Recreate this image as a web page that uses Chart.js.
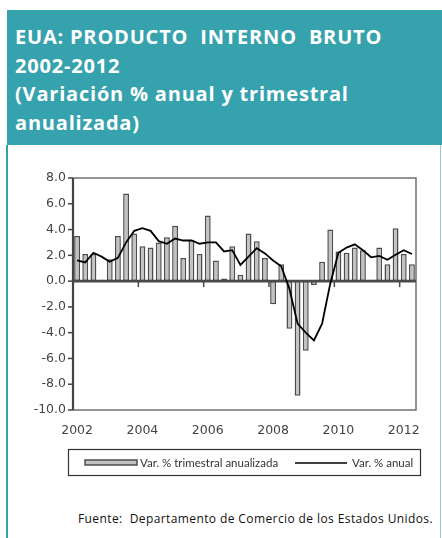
<!DOCTYPE html>
<html><head><meta charset="utf-8">
<script src="https://cdn.jsdelivr.net/npm/chart.js@4"></script>
<style>
html,body{margin:0;padding:0;background:#fff;width:442px;height:538px;overflow:hidden;position:relative}
#hdr{position:absolute;left:7px;top:10px;width:435px;height:135px;background:#35a2ae;}
#hdr div{position:absolute;left:8px;top:13px;color:#fff;font:700 20px "Open Sans";letter-spacing:0.8px;line-height:28.5px;white-space:pre;}
#lb{position:absolute;left:6px;top:145px;width:2px;height:393px;background:#35a2ae}
#rb{position:absolute;left:440px;top:145px;width:1px;height:393px;background:#9cc9cf}
#foot{position:absolute;left:78px;top:510px;font:12px "Open Sans";letter-spacing:0.4px;color:#111;white-space:pre}
canvas{position:absolute;left:0;top:0}
</style></head>
<body>
<div id="hdr"><div>EUA: PRODUCTO  INTERNO  BRUTO
2002-2012
(Variación % anual y trimestral
anualizada)</div></div>
<div id="lb"></div><div id="rb"></div>
<div id="foot">Fuente:  Departamento de Comercio de los Estados Unidos.</div>
<canvas id="c" width="442" height="538"></canvas>
<script>
// ---- data ----
const years = ['2002','2003','2004','2005','2006','2007','2008','2009','2010','2011','2012'];
const quarters = [];
years.forEach(y => { for (let q = 1; q <= 4; q++) quarters.push(y + ' T' + q); });
quarters.length = 42; // 2002 T1 .. 2012 T2
const tickYears = ['2002','2004','2006','2008','2010','2012'];
const trimestral = [
  3.5, 2.1, 2.1, 0.1,
  1.7, 3.5, 6.8, 3.7,
  2.7, 2.6, 3.0, 3.4,
  4.3, 1.8, 3.2, 2.1,
  5.1, 1.6, 0.2, 2.7,
  0.5, 3.7, 3.1, 1.8,
  -1.8, 1.3, -3.7, -8.9,
  -5.4, -0.3, 1.5, 4.0,
  2.3, 2.2, 2.6, 2.4,
  0.1, 2.6, 1.3, 4.1,
  2.1, 1.3
];
const anual = [
  1.6, 1.45, 2.2, 1.9,
  1.5, 1.8, 3.0, 3.9,
  4.1, 3.9, 3.1, 2.9,
  3.3, 3.15, 3.15, 2.9,
  3.0, 3.0, 2.3, 2.4,
  1.25, 1.9, 2.55, 2.15,
  1.6, 1.15, -0.6, -3.3,
  -4.0, -4.6, -3.3, -0.2,
  2.2, 2.6, 2.85, 2.4,
  1.85, 1.95, 1.65, 2.05,
  2.4, 2.1
];
const seriesNames = ['Var. % trimestral anualizada', 'Var. % anual'];

const frame = {
  id: 'frame',
  afterDatasetDraw(chart, args) {
    if (args.index !== 0) return;
    const {ctx, chartArea: a, scales: {x, y}} = chart;
    ctx.save();
    ctx.strokeStyle = '#707070'; ctx.lineWidth = 1.5;
    ctx.beginPath();
    ctx.moveTo(a.left, a.top); ctx.lineTo(a.right, a.top); ctx.lineTo(a.right, a.bottom); ctx.lineTo(a.left, a.bottom);
    ctx.stroke();
    ctx.strokeStyle = '#444'; ctx.lineWidth = 2.2;
    ctx.beginPath(); ctx.moveTo(a.left, a.top); ctx.lineTo(a.left, a.bottom); ctx.stroke();
    ctx.lineWidth = 1.5;
    y.ticks.forEach(t => {
      const py = y.getPixelForValue(t.value);
      ctx.beginPath(); ctx.moveTo(a.left - 5, py); ctx.lineTo(a.left, py); ctx.stroke();
    });
    const y0 = y.getPixelForValue(0);
    ctx.strokeStyle = '#4a4a4a'; ctx.lineWidth = 2.6;
    ctx.beginPath(); ctx.moveTo(a.left, y0); ctx.lineTo(a.right, y0); ctx.stroke();
    ctx.lineWidth = 1.5;
    const step = (x.getPixelForValue(1) - x.getPixelForValue(0));
    for (let i = 8; i < quarters.length; i += 8) {
      const px = x.getPixelForValue(i) - step / 2;
      ctx.beginPath(); ctx.moveTo(px, y0); ctx.lineTo(px, y0 + 6); ctx.stroke();
    }
    ctx.restore();
  }
};

const legendBox = {
  id: 'legendBox',
  afterDraw(chart) {
    const ctx = chart.ctx;
    const ds = chart.data.datasets;
    ctx.save();
    ctx.strokeStyle = '#333'; ctx.lineWidth = 1.2;
    ctx.strokeRect(68.5, 449.5, 352, 26);
    ctx.fillStyle = ds[0].backgroundColor; ctx.strokeStyle = ds[0].borderColor; ctx.lineWidth = 1.5;
    ctx.fillRect(85, 460, 52, 5); ctx.strokeRect(85, 460, 52, 5);
    ctx.font = '11.5px Lato'; ctx.fillStyle = '#333'; ctx.textBaseline = 'middle';
    ctx.fillText(ds[0].label, 140, 463);
    ctx.strokeStyle = ds[1].borderColor; ctx.lineWidth = 1.6;
    ctx.beginPath(); ctx.moveTo(295, 463); ctx.lineTo(347, 463); ctx.stroke();
    ctx.fillText(ds[1].label, 352, 463);
    ctx.restore();
  }
};

new Chart(document.getElementById('c'), {
  type: 'bar',
  data: {
    labels: quarters,
    datasets: [
      { type: 'bar', label: seriesNames[0], data: trimestral, order: 2,
        backgroundColor: '#c2c2c2', borderColor: '#4d4d4d', borderWidth: 1.5,
        borderSkipped: false, barPercentage: 0.72, categoryPercentage: 1.0 },
      { type: 'line', label: seriesNames[1], data: anual, order: 1,
        borderColor: '#000', borderWidth: 1.8, pointRadius: 0, tension: 0, fill: false }
    ]
  },
  options: {
    responsive: false, animation: false,
    layout: { padding: { left: 0, top: 178, right: 26, bottom: 100 } },
    plugins: { legend: { display: false }, tooltip: { enabled: false } },
    scales: {
      x: {
        grid: { display: false, drawTicks: false }, border: { display: false },
        ticks: { autoSkip: false, maxRotation: 0, padding: 13, color: '#444',
                 font: { family: 'DejaVu Sans', size: 12.5 },
                 callback: (v, i) => (i % 8 === 0 ? tickYears[i / 8] : '') },
        afterFit: s => { s.height = 28; }
      },
      y: {
        min: -10, max: 8,
        grid: { display: false, drawTicks: false }, border: { display: false },
        ticks: { stepSize: 2, padding: 7, color: '#444',
                 font: { family: 'DejaVu Sans', size: 12.5 },
                 callback: v => Number(v).toFixed(1) },
        afterFit: s => { s.width = 73; }
      }
    }
  },
  plugins: [frame, legendBox]
});
</script>
</body></html>
